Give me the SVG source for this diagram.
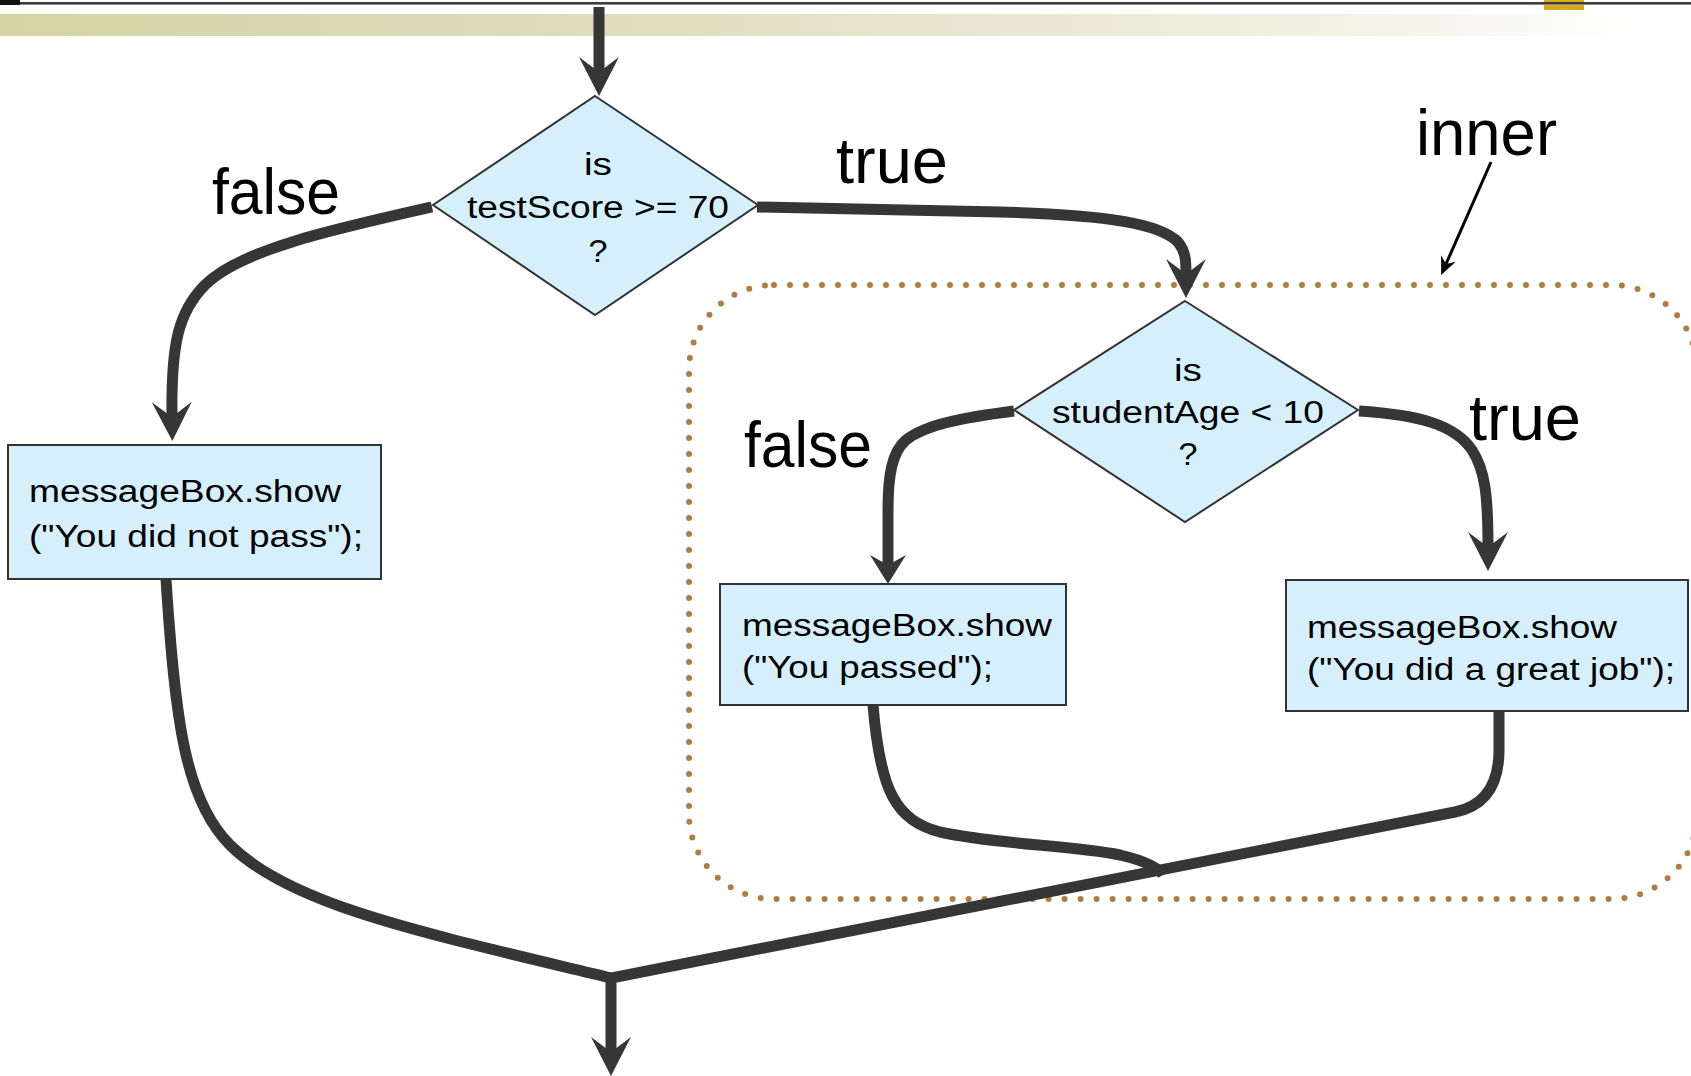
<svg xmlns="http://www.w3.org/2000/svg" width="1691" height="1076" viewBox="0 0 1691 1076">
  <defs>
    <linearGradient id="band" x1="0" y1="0" x2="1" y2="0">
      <stop offset="0" stop-color="#d5d2a5"/>
      <stop offset="0.3" stop-color="#dcdab8"/>
      <stop offset="0.55" stop-color="#e6e4cc"/>
      <stop offset="0.82" stop-color="#f2f1e4"/>
      <stop offset="1" stop-color="#ffffff"/>
    </linearGradient>
    <!-- barbed arrowheads; the path ends at the notch -->
    <marker id="ah" markerUnits="userSpaceOnUse" viewBox="-16 -21 42 42" markerWidth="42" markerHeight="42" refX="0" refY="0" orient="auto">
      <path d="M-15,-20 L24,0 L-15,20 L0,0 Z" fill="#363636"/>
    </marker>
    <marker id="ah-s" markerUnits="userSpaceOnUse" viewBox="-11 -19 31 38" markerWidth="31" markerHeight="38" refX="0" refY="0" orient="auto">
      <path d="M-10,-18 L19,0 L-10,18 L0,0 Z" fill="#363636"/>
    </marker>
    <marker id="ah-thin" markerUnits="userSpaceOnUse" viewBox="-7 -9 20 18" markerWidth="20" markerHeight="18" refX="0" refY="0" orient="auto">
      <path d="M-6,-8 L12,0 L-6,8 L0,0 Z" fill="#000"/>
    </marker>
  </defs>
  <style>
    .conn { fill: none; stroke: #363636; stroke-width: 11; }
    .shape { fill: #d5effc; stroke: #333333; stroke-width: 2; }
    .t { font-family: "Liberation Sans", Arial, sans-serif; font-size: 31px; fill: #000; }
    .mid { text-anchor: middle; }
    .lbl { font-family: "Liberation Sans", Arial, sans-serif; font-size: 65px; fill: #000; }
  </style>

  <!-- page header decoration -->
  <g id="header">
    <rect x="0" y="14" width="1640" height="22" fill="url(#band)"/>
    <rect x="1544" y="0" width="40" height="10" fill="#d6aa1e"/>
    <line x1="0" y1="3" x2="1691" y2="3" stroke="#3c3c3c" stroke-width="2"/>
    <line x1="0" y1="4.5" x2="1691" y2="4.5" stroke="#8a8a8a" stroke-width="1"/>
    <rect x="0" y="0" width="20" height="5" fill="#111"/>
  </g>

  <!-- nested-decision group outline -->
  <rect id="inner-group" x="689" y="285" width="1008" height="614" rx="85" fill="none" stroke="#b07c42" stroke-width="6" stroke-dasharray="0 16" stroke-linecap="round"/>

  <g id="connectors">
    <path class="conn" d="M599,7 L599,72" marker-end="url(#ah)"/>
    <path class="conn" d="M432,207 C330,230 240,250 205,285 C178,312 171,345 172,417" marker-end="url(#ah)"/>
    <path class="conn" d="M757,207 L1000,212 C1110,215 1160,224 1178,242 C1186,252 1186,262 1186,274" marker-end="url(#ah)"/>
    <path class="conn" d="M1014,411 C960,418 925,425 906,440 C892,452 888,475 888,510 L888,565" marker-end="url(#ah-s)"/>
    <path class="conn" d="M1359,411 C1420,415 1455,425 1472,450 C1485,470 1488,495 1488,547" marker-end="url(#ah)"/>
    <path class="conn" d="M166,579 C175,720 185,800 230,845 C290,905 420,932 611,978"/>
    <path class="conn" d="M873,705 C880,790 895,820 940,832 C1000,845 1070,845 1120,855 C1150,862 1160,870 1163,875"/>
    <path class="conn" d="M1499,711 L1499,750 C1499,785 1485,806 1455,812 L611,978 L611,1052" marker-end="url(#ah)"/>
    <path d="M1491,162 L1446,264" fill="none" stroke="#000" stroke-width="3" marker-end="url(#ah-thin)"/>
  </g>

  <g id="decision-score">
    <polygon class="shape" points="595,96 758,205 595,315 433,205"/>
    <text class="t mid" x="598" y="175" textLength="28" lengthAdjust="spacingAndGlyphs">is</text>
    <text class="t mid" x="598" y="218" textLength="262" lengthAdjust="spacingAndGlyphs">testScore &gt;= 70</text>
    <text class="t mid" x="598" y="262" textLength="19" lengthAdjust="spacingAndGlyphs">?</text>
  </g>

  <g id="box-not-pass">
    <rect class="shape" x="8" y="445" width="373" height="134"/>
    <text class="t" x="29" y="502" textLength="312" lengthAdjust="spacingAndGlyphs">messageBox.show</text>
    <text class="t" x="29" y="547" textLength="334" lengthAdjust="spacingAndGlyphs">("You did not pass");</text>
  </g>

  <g id="decision-age">
    <polygon class="shape" points="1185,301 1358,410 1185,522 1014,410"/>
    <text class="t mid" x="1188" y="381" textLength="28" lengthAdjust="spacingAndGlyphs">is</text>
    <text class="t mid" x="1188" y="423" textLength="272" lengthAdjust="spacingAndGlyphs">studentAge &lt; 10</text>
    <text class="t mid" x="1188" y="465" textLength="19" lengthAdjust="spacingAndGlyphs">?</text>
  </g>

  <g id="box-passed">
    <rect class="shape" x="720" y="584" width="346" height="121"/>
    <text class="t" x="742" y="636" textLength="310" lengthAdjust="spacingAndGlyphs">messageBox.show</text>
    <text class="t" x="742" y="678" textLength="251" lengthAdjust="spacingAndGlyphs">("You passed");</text>
  </g>

  <g id="box-great-job">
    <rect class="shape" x="1286" y="580" width="402" height="131"/>
    <text class="t" x="1307" y="638" textLength="310" lengthAdjust="spacingAndGlyphs">messageBox.show</text>
    <text class="t" x="1307" y="680" textLength="368" lengthAdjust="spacingAndGlyphs">("You did a great job");</text>
  </g>

  <g id="labels">
    <text class="lbl" x="212" y="214" textLength="128" lengthAdjust="spacingAndGlyphs">false</text>
    <text class="lbl" x="836" y="183" textLength="112" lengthAdjust="spacingAndGlyphs">true</text>
    <text class="lbl" x="1416" y="155" textLength="141" lengthAdjust="spacingAndGlyphs">inner</text>
    <text class="lbl" x="744" y="467" textLength="128" lengthAdjust="spacingAndGlyphs">false</text>
    <text class="lbl" x="1469" y="440" textLength="112" lengthAdjust="spacingAndGlyphs">true</text>
  </g>
</svg>
